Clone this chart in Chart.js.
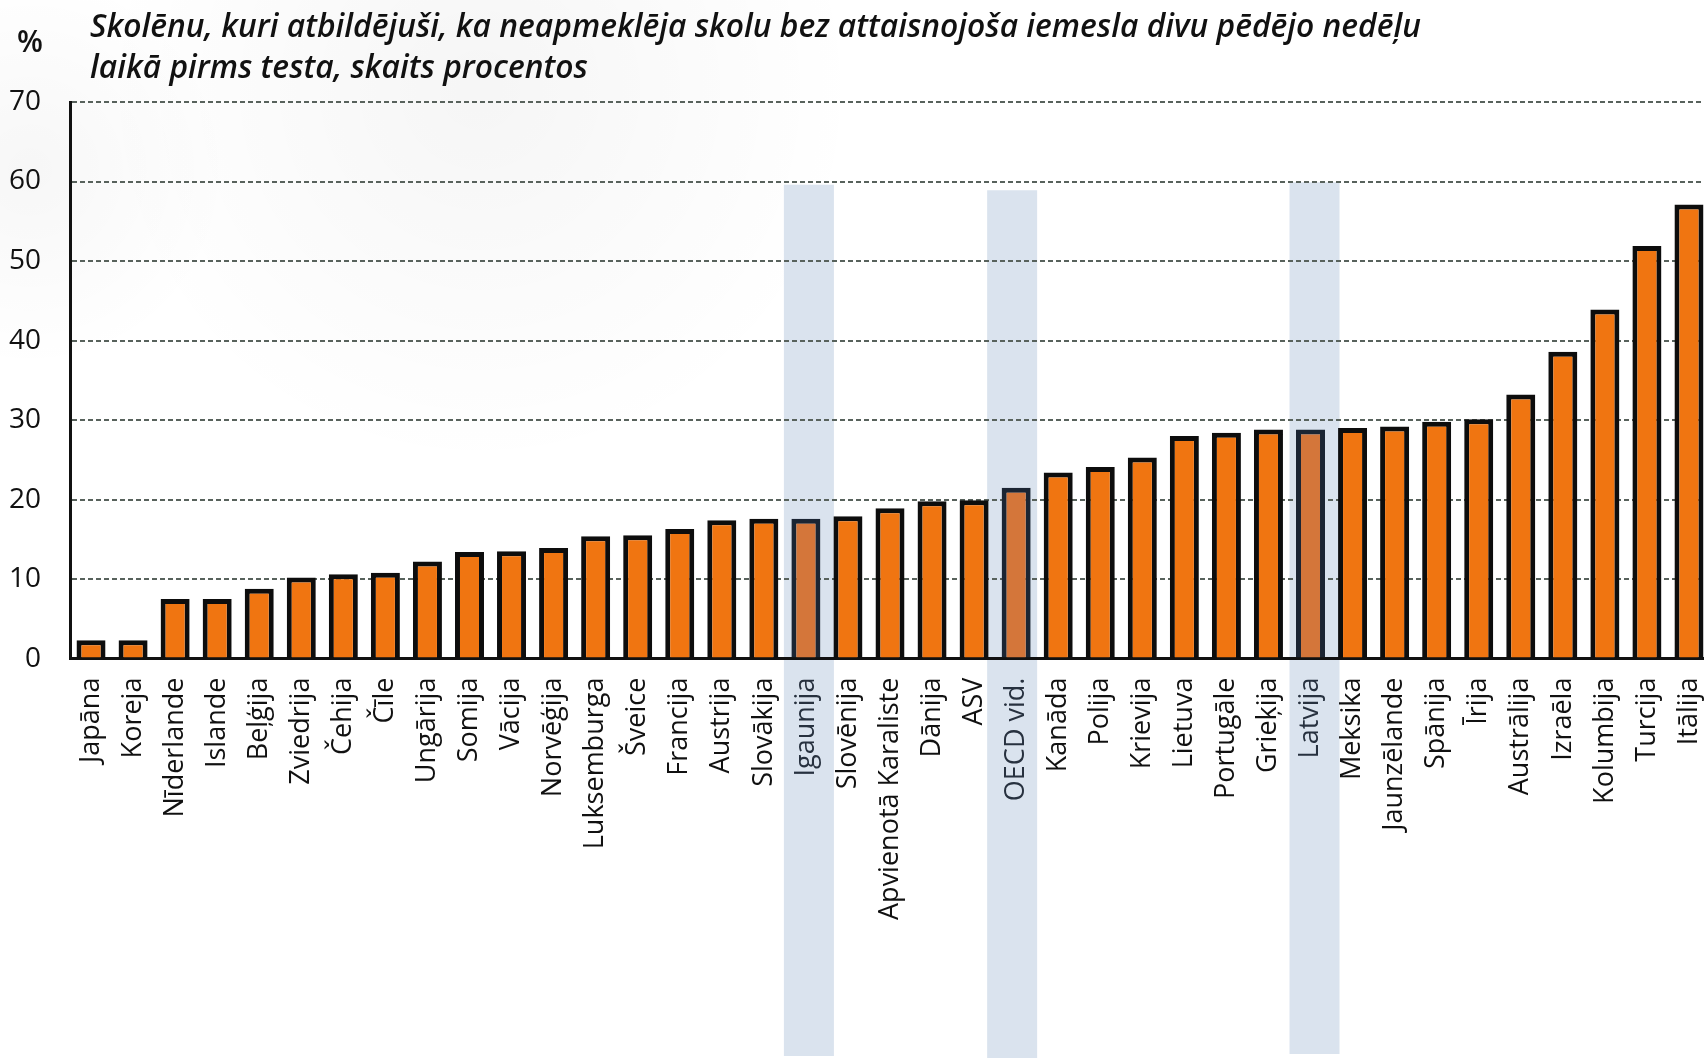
<!DOCTYPE html>
<html lang="lv">
<head>
<meta charset="utf-8">
<title>Skolēnu kavējumi</title>
<script src="https://cdn.jsdelivr.net/npm/chart.js@4.4.1/dist/chart.umd.min.js"></script>
<style>
    html, body { margin: 0; padding: 0; background: #fff; overflow: hidden; }
    #wrap { width: 1704px; height: 1058px; overflow: hidden; }
    canvas { display: block; }
</style>
</head>
<body>
<div id="wrap"><canvas id="chart" width="1710" height="1058"></canvas></div>
<script>
const valstis = [
    "Japāna", "Koreja", "Nīderlande", "Islande", "Beļģija", "Zviedrija", "Čehija", "Čīle",
    "Ungārija", "Somija", "Vācija", "Norvēģija", "Luksemburga", "Šveice", "Francija",
    "Austrija", "Slovākija", "Igaunija", "Slovēnija", "Apvienotā Karaliste", "Dānija", "ASV",
    "OECD vid.", "Kanāda", "Polija", "Krievija", "Lietuva", "Portugāle", "Grieķija", "Latvija",
    "Meksika", "Jaunzēlande", "Spānija", "Īrija", "Austrālija", "Izraēla", "Kolumbija",
    "Turcija", "Itālija"
];
const procenti = [
    2.3, 2.3, 7.5, 7.5, 8.8, 10.2, 10.6, 10.8,
    12.2, 13.4, 13.5, 13.9, 15.4, 15.5, 16.3,
    17.4, 17.6, 17.6, 17.9, 18.9, 19.8, 19.9,
    21.5, 23.4, 24.1, 25.3, 28.0, 28.4, 28.8, 28.8,
    29.0, 29.2, 29.8, 30.1, 33.2, 38.6, 43.9,
    51.9, 57.1
];
const yTicks = [0, 10, 20, 30, 40, 50, 60, 70];
const izceltie = ["Igaunija", "OECD vid.", "Latvija"];
const josluAugsa = [59.6, 58.9, 59.9];
const virsraksts = [
    "Skolēnu, kuri atbildējuši, ka neapmeklēja skolu bez attaisnojoša iemesla divu pēdējo nedēļu",
    "laikā pirms testa, skaits procentos"
];
const mervieniba = "%";

// izskats
const ORANZS = "#f07511";
const ORANZS_IZC = "#d4763a";
const JOSLA = "#dae3ee";
const joslaNobide = [3, -4, 4];
const joslaApaksa = [2, 0, 4];

const irIzcelts = (i) => izceltie.includes(valstis[i]);

const fonsUnJoslas = {
    id: "fonsUnJoslas",
    beforeDraw(chart) {
        const { ctx, scales } = chart;
        ctx.save();
        ctx.fillStyle = "#fff";
        ctx.fillRect(0, 0, chart.width, chart.height);
        // blāvs fona ūdenszīmes iespaids
        const g1 = ctx.createRadialGradient(480, 90, 20, 480, 90, 380);
        g1.addColorStop(0, "rgba(0,0,0,0.035)");
        g1.addColorStop(1, "rgba(0,0,0,0)");
        ctx.fillStyle = g1;
        ctx.fillRect(0, 0, chart.width, 500);
        const g2 = ctx.createRadialGradient(30, 170, 10, 30, 170, 200);
        g2.addColorStop(0, "rgba(0,0,0,0.03)");
        g2.addColorStop(1, "rgba(0,0,0,0)");
        ctx.fillStyle = g2;
        ctx.fillRect(0, 0, 400, 500);

        ctx.fillStyle = JOSLA;
        izceltie.forEach((nos, k) => {
            const i = valstis.indexOf(nos);
            const cx = scales.x.getPixelForValue(i) + joslaNobide[k];
            const top = scales.y.getPixelForValue(josluAugsa[k]);
            ctx.fillRect(cx - 25, top, 50, chart.height - joslaApaksa[k] - top);
        });
        ctx.restore();
    },
    afterDraw(chart) {
        const ctx = chart.ctx;
        ctx.save();
        ctx.fillStyle = "#111";
        ctx.textBaseline = "alphabetic";
        ctx.font = 'italic 600 32px "Open Sans"';
        const sx = 1331 / ctx.measureText(virsraksts[0]).width;
        ctx.translate(90, 0);
        ctx.scale(sx, 1);
        ctx.fillText(virsraksts[0], 0, 37);
        ctx.fillText(virsraksts[1], 0, 78);
        ctx.restore();

        ctx.save();
        ctx.fillStyle = "#111";
        ctx.font = '600 30px "Open Sans"';
        ctx.textAlign = "center";
        ctx.fillText(mervieniba, 30, 52);
        ctx.restore();
    }
};

new Chart(document.getElementById("chart"), {
    type: "bar",
    data: {
        labels: valstis,
        datasets: [{
            data: procenti,
            backgroundColor: valstis.map((v, i) => irIzcelts(i) ? ORANZS_IZC : ORANZS),
            borderColor: valstis.map((v, i) => irIzcelts(i) ? "#1b2533" : "#0d0d0d"),
            borderWidth: 5,
            barPercentage: 0.69,
            categoryPercentage: 1
        }]
    },
    options: {
        responsive: false,
        animation: false,
        devicePixelRatio: 1,
        layout: { padding: { top: 102, left: 0, right: 0, bottom: 0 } },
        plugins: {
            legend: { display: false },
            tooltip: { enabled: false },
            title: { display: false }
        },
        scales: {
            x: {
                grid: { display: false, drawTicks: false },
                border: { display: true, color: "#111", width: 3 },
                ticks: {
                    autoSkip: false,
                    minRotation: 90,
                    maxRotation: 90,
                    padding: 19,
                    color: (c) => irIzcelts(c.index) ? "#27313f" : "#111",
                    font: { family: "Open Sans", size: 27 }
                },
                afterFit(s) {
                    s.height = 399.4;
                    s.paddingLeft = 0;
                    s.paddingRight = 0;
                }
            },
            y: {
                min: 0,
                max: 70,
                grid: { color: "#58625c", lineWidth: 2, drawTicks: false },
                border: { display: true, color: "#111", width: 3, dash: [5, 3] },
                ticks: {
                    padding: 29,
                    color: "#111",
                    font: { family: "Open Sans", size: 28 }
                },
                afterBuildTicks(s) {
                    s.ticks = yTicks.map((v) => ({ value: v }));
                },
                afterFit(s) {
                    s.width = 70;
                    s.paddingTop = 0;
                    s.paddingBottom = 0;
                }
            }
        }
    },
    plugins: [fonsUnJoslas]
});
</script>
</body>
</html>
